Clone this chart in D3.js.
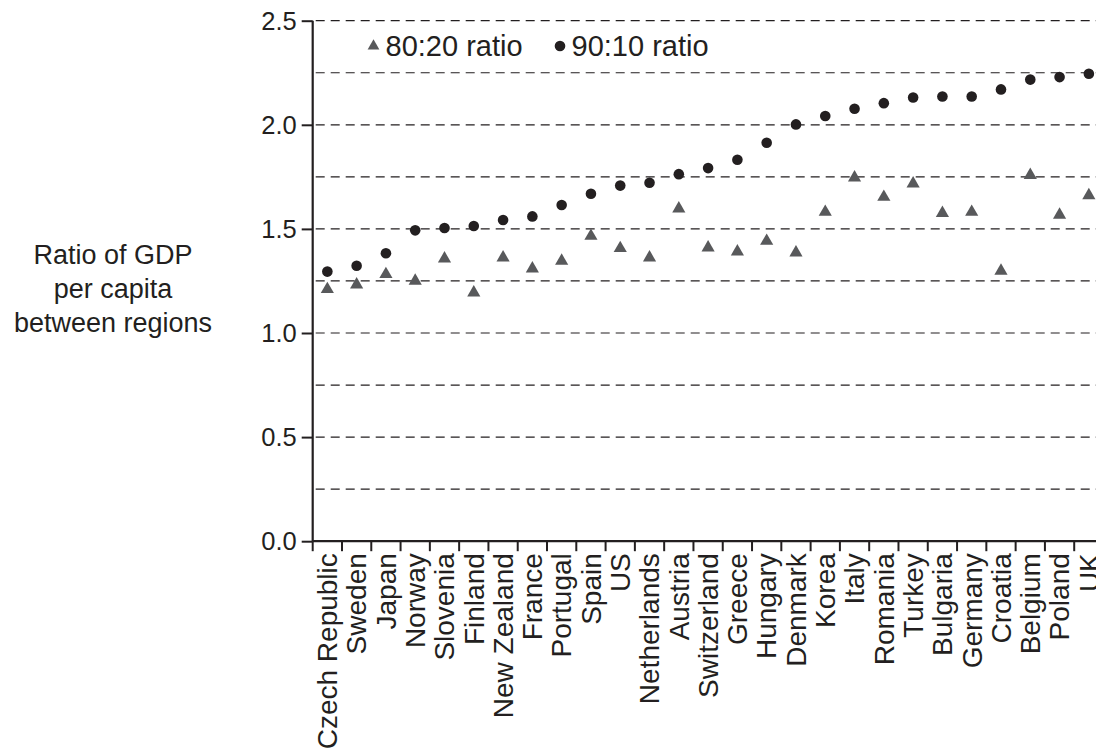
<!DOCTYPE html>
<html><head><meta charset="utf-8">
<script src="https://cdn.jsdelivr.net/npm/d3@7/dist/d3.min.js"></script>
<style>
body{margin:0;background:#fff;}
svg{display:block;font-family:"Liberation Sans",Arial,Helvetica,sans-serif;}
</style></head><body>
<svg id="chart" width="1096" height="756"></svg>
<script>
const countries = ["Czech Republic","Sweden","Japan","Norway","Slovenia","Finland","New Zealand","France","Portugal","Spain","US","Netherlands","Austria","Switzerland","Greece","Hungary","Denmark","Korea","Italy","Romania","Turkey","Bulgaria","Germany","Croatia","Belgium","Poland","UK"];
const ratio8020 = [1.21,1.232,1.282,1.25,1.357,1.194,1.362,1.309,1.346,1.466,1.407,1.362,1.597,1.41,1.391,1.442,1.386,1.581,1.746,1.653,1.717,1.576,1.581,1.298,1.758,1.567,1.661];
const ratio9010 = [1.295,1.323,1.383,1.493,1.504,1.514,1.543,1.56,1.615,1.669,1.708,1.722,1.763,1.792,1.832,1.914,2.002,2.042,2.077,2.104,2.131,2.136,2.136,2.17,2.217,2.229,2.245];
const yTicks = [0,0.5,1.0,1.5,2.0,2.5];
const yGrid = [0.25,0.5,0.75,1.0,1.25,1.5,1.75,2.0,2.25,2.5];
const seriesNames = ["80:20 ratio","90:10 ratio"];
const yTitle = ["Ratio of GDP","per capita","between regions"];

(function(){
const svg = d3.select("#chart");
const mLeft = 312.7, mRight = 1103.5, mTop = 20.7, mBottom = 541.2;
const x = d3.scaleBand().domain(countries).range([mLeft,mRight]).padding(0);
const y = d3.scaleLinear().domain([0,2.5]).range([mBottom,mTop]);
const ink = "#231f20";

// gridlines
svg.append("g").selectAll("line").data(yGrid).join("line")
  .attr("x1",mLeft+3).attr("x2",1096)
  .attr("y1",d=>y(d)).attr("y2",d=>y(d))
  .attr("stroke",ink).attr("stroke-width",1.2).attr("stroke-dasharray","9,6");

// y axis
const yAxis = svg.append("g").attr("transform",`translate(${mLeft},0)`)
  .call(d3.axisLeft(y).tickValues(yTicks).tickFormat(d3.format(".1f")).tickSize(11).tickPadding(5));
yAxis.select(".domain").attr("d",`M0,${mTop}V${mBottom}`).attr("stroke",ink).attr("stroke-width",2.2);
yAxis.selectAll(".tick line").attr("stroke",ink).attr("stroke-width",2);
yAxis.selectAll(".tick text").attr("font-size",25.5).attr("fill",ink).attr("font-family","Liberation Sans, Arial, sans-serif").attr("dy","0.34em");

// x axis
const xAxis = svg.append("g").attr("transform",`translate(0,${mBottom})`)
  .call(d3.axisBottom(x).tickSize(0).tickPadding(0));
xAxis.select(".domain").attr("d",`M${mLeft},0H1096`).attr("stroke",ink).attr("stroke-width",2.2);
xAxis.selectAll(".tick text")
  .attr("font-size",28).attr("fill",ink).attr("font-family","Liberation Sans, Arial, sans-serif")
  .attr("text-anchor","end")
  .attr("transform","rotate(-90)")
  .attr("x",-12).attr("y",0).attr("dy","0.35em");
// boundary ticks
svg.append("g").selectAll("line").data(countries).join("line")
  .attr("x1",d=>x(d)).attr("x2",d=>x(d))
  .attr("y1",mBottom).attr("y2",mBottom+10)
  .attr("stroke",ink).attr("stroke-width",2);

const tri = d3.symbol().type(d3.symbolTriangle).size(75);
const cx = d => x(d)+x.bandwidth()/2;

// 80:20 triangles
svg.append("g").selectAll("path").data(countries).join("path")
  .attr("d",tri)
  .attr("transform",(d,i)=>`translate(${cx(d)},${y(ratio8020[i])})`)
  .attr("fill","#58595b");

// 90:10 circles
svg.append("g").selectAll("circle").data(countries).join("circle")
  .attr("cx",cx).attr("cy",(d,i)=>y(ratio9010[i])).attr("r",5.3)
  .attr("fill",ink);

// legend
const lg = svg.append("g");
lg.append("path").attr("d",d3.symbol().type(d3.symbolTriangle).size(60)).attr("transform","translate(373.5,46)").attr("fill","#58595b");
lg.append("text").attr("x",385.5).attr("y",56).attr("font-size",29).attr("fill",ink).text(seriesNames[0]);
lg.append("circle").attr("cx",560).attr("cy",46).attr("r",5.3).attr("fill",ink);
lg.append("text").attr("x",571.5).attr("y",56).attr("font-size",29).attr("fill",ink).text(seriesNames[1]);

// y title
svg.append("text").attr("text-anchor","middle").attr("font-size",27).attr("fill",ink)
  .selectAll("tspan").data(yTitle).join("tspan")
  .attr("x",113).attr("y",(d,i)=>263.5+i*34).text(d=>d);
})();
</script>
</body></html>
